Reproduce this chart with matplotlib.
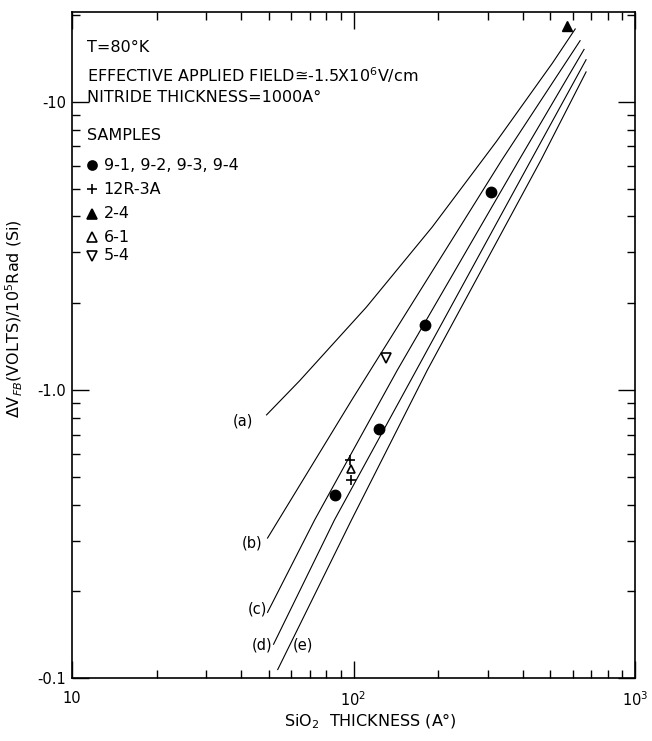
import matplotlib
matplotlib.use("Agg")
import matplotlib.pyplot as plt
import matplotlib.ticker as ticker

plt.rcParams["font.family"] = ["DejaVu Sans"]

# SiO2 thickness (A) vs |dV_FB| per 1e5 rad
curve_names = ["(a)", "(b)", "(c)", "(d)", "(e)"]
curve_x = [
    [49.1, 64.3, 111.2, 190.5, 321, 508, 613],
    [49.5, 98.4, 337, 638],
    [49.5, 72.8, 143.2, 388, 659],
    [52.0, 85.6, 167.3, 428, 670],
    [53.8, 98.4, 183.0, 464, 670],
]
curve_y = [
    [0.819, 1.075, 1.94, 3.68, 7.26, 13.6, 17.9],
    [0.306, 0.92, 6.3, 16.3],
    [0.169, 0.354, 1.173, 6.30, 15.2],
    [0.131, 0.354, 1.173, 6.30, 14.0],
    [0.107, 0.354, 1.173, 6.30, 12.7],
]
# where the curve labels sit
label_x = [40.4, 43.5, 45.7, 47.5, 65.9]
label_y = [0.78, 0.294, 0.174, 0.130, 0.130]

circ_x = [85.6, 122.7, 179.8, 308]
circ_y = [0.431, 0.733, 1.68, 4.87]
plus_x = [97.2, 98.2]
plus_y = [0.571, 0.487]
tri_up_filled_x = [573]
tri_up_filled_y = [18.3]
tri_up_open_x = [98.2]
tri_up_open_y = [0.531]
tri_down_open_x = [130]
tri_down_open_y = [1.29]

fig = plt.figure(figsize=(6.52, 7.41), dpi=100)
ax = fig.add_axes([0.1104, 0.085, 0.8636, 0.8988])
ax.set_xscale("log")
ax.set_yscale("log")
ax.set_xlim(10, 1000)
ax.set_ylim(0.1, 20.5)

for xs, ys in zip(curve_x, curve_y):
    ax.plot(xs, ys, color="black", linewidth=0.8)
for name, lx, ly in zip(curve_names, label_x, label_y):
    ax.text(lx, ly, name, fontsize=10.5, ha="center", va="center")

ax.plot(circ_x, circ_y, "o", color="black", markersize=7.5, linestyle="none")
ax.plot(plus_x, plus_y, "+", color="black", markersize=6.5, markeredgewidth=1.2, linestyle="none")
ax.plot(tri_up_filled_x, tri_up_filled_y, "^", color="black", markersize=7, linestyle="none")
ax.plot(tri_up_open_x, tri_up_open_y, "^", markerfacecolor="white", markeredgecolor="black",
        markersize=6, markeredgewidth=1.2, linestyle="none")
ax.plot(tri_down_open_x, tri_down_open_y, "v", markerfacecolor="white", markeredgecolor="black",
        markersize=6.5, markeredgewidth=1.2, linestyle="none")

# annotation block in the upper left
fs = 11.5
tx = 0.026
ax.text(tx, 0.946, "T=80°K", transform=ax.transAxes, fontsize=fs, va="center")
ax.text(tx, 0.905, "EFFECTIVE APPLIED FIELD≅-1.5X10$^6$V/cm", transform=ax.transAxes,
        fontsize=fs, va="center")
ax.text(tx, 0.872, "NITRIDE THICKNESS=1000A°", transform=ax.transAxes, fontsize=fs, va="center")
ax.text(tx, 0.814, "SAMPLES", transform=ax.transAxes, fontsize=fs, va="center")

leg_rows = [
    ("o", "black", "9-1, 9-2, 9-3, 9-4", 0.770),
    ("+", "black", "12R-3A", 0.734),
    ("^", "black", "2-4", 0.697),
    ("^", "white", "6-1", 0.662),
    ("v", "white", "5-4", 0.634),
]
for mk, fc, txt, yy in leg_rows:
    ax.plot([0.036], [yy], mk, transform=ax.transAxes, markerfacecolor=fc,
            markeredgecolor="black", color="black", markersize=6.5 if mk != "+" else 7,
            markeredgewidth=1.2, clip_on=False)
    ax.text(0.056, yy, txt, transform=ax.transAxes, fontsize=fs, va="center")

# ticks: inward on all four sides
ax.xaxis.set_minor_locator(ticker.LogLocator(base=10, subs=range(2, 10), numticks=20))
ax.yaxis.set_minor_locator(ticker.LogLocator(base=10, subs=range(2, 10), numticks=20))
ax.xaxis.set_minor_formatter(ticker.NullFormatter())
ax.yaxis.set_minor_formatter(ticker.NullFormatter())
ax.set_xticks([10, 100, 1000])
ax.set_xticklabels(["10", "10$^2$", "10$^3$"])
ax.set_yticks([0.1, 1, 10])
ax.set_yticklabels(["-0.1", "-1.0", "-10"])
ax.tick_params(which="both", direction="in", top=True, right=True, labelsize=10.5, width=1.0)
ax.tick_params(which="major", length=12)
ax.tick_params(axis="x", which="major", pad=9)
ax.tick_params(axis="y", which="major", pad=4)
ax.tick_params(which="minor", length=6)
for sp in ax.spines.values():
    sp.set_linewidth(1.2)

ax.set_xlabel("SiO$_2$  THICKNESS (A°)", fontsize=11.5)
ax.set_ylabel("ΔV$_{FB}$(VOLTS)/10$^5$Rad (Si)", fontsize=11.5)
ax.yaxis.set_label_coords(-0.083, 0.54)
ax.xaxis.set_label_coords(0.53, -0.05)

fig.savefig("out.png", dpi=100)
